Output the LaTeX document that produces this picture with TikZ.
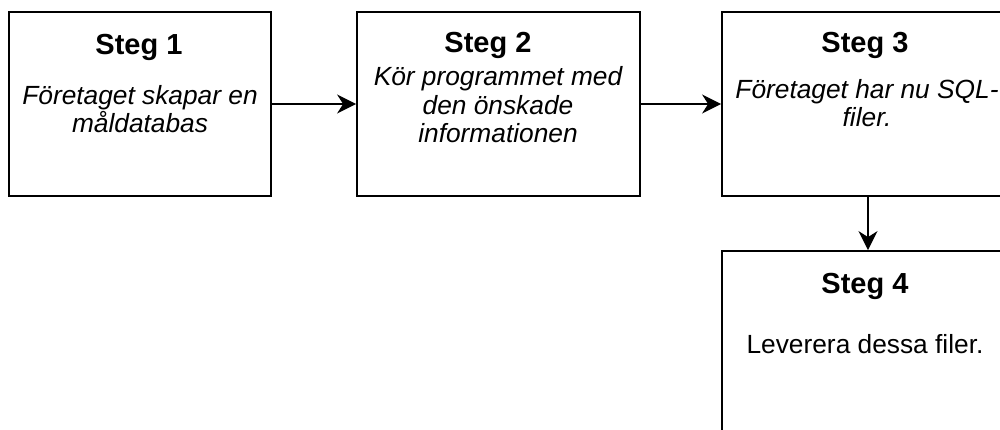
\documentclass[tikz,border=0pt]{standalone}
\usepackage{fontspec}
\setmainfont{Liberation Sans}
\usetikzlibrary{arrows.meta,calc}
\begin{document}
\begin{tikzpicture}[x=1pt,y=-1pt,
  box/.style={draw=black, line width=1.8pt, fill=white, rectangle, inner sep=0pt},
  head/.style={anchor=base, inner sep=0pt, font=\fontsize{29}{34}\selectfont\bfseries},
  body/.style={anchor=base, inner sep=0pt, align=center, font=\fontsize{26.3}{28.5}\selectfont\itshape},
  plain/.style={anchor=base, inner sep=0pt, align=center, font=\fontsize{26.3}{28.5}\selectfont},
  conn/.style={line width=1.8pt, -{Stealth[length=19pt, width=19pt, inset=6pt]}}]
\useasboundingbox (0,0) rectangle (1000,430);
\clip (0,0) rectangle (1000,430);
\fill[white] (0,0) rectangle (1000,430);
\node[box, minimum width=262pt, minimum height=184pt] (b1) at (140,104) {};
\node[box, minimum width=283pt, minimum height=184pt] (b2) at (498.5,104) {};
\node[box, minimum width=292pt, minimum height=184pt] (b3) at (868,104) {};
\node[box, minimum width=292pt, minimum height=184pt] (b4) at (868,343) {};
\node[head] (h1) at (139,55) {Steg 1};
\node[body] (t1) at (140,133) {Företaget skapar en\\måldatabas};
\node[head] (h2) at (488,53) {Steg 2};
\node[body] (t2) at (498,143) {Kör programmet med\\den önskade\\informationen};
\node[head] (h3) at (865,53) {Steg 3};
\node[body] (t3) at (867,127) {Företaget har nu SQL-\\filer.};
\node[head] (h4) at (865,293) {Steg 4};
\node[plain] (t4) at (865,353) {Leverera dessa filer.};
\draw[conn] (b1.east) -- (b2.west);
\draw[conn] (b2.east) -- (b3.west);
\draw[conn] (b3.south) -- (b4.north);
\end{tikzpicture}
\end{document}
